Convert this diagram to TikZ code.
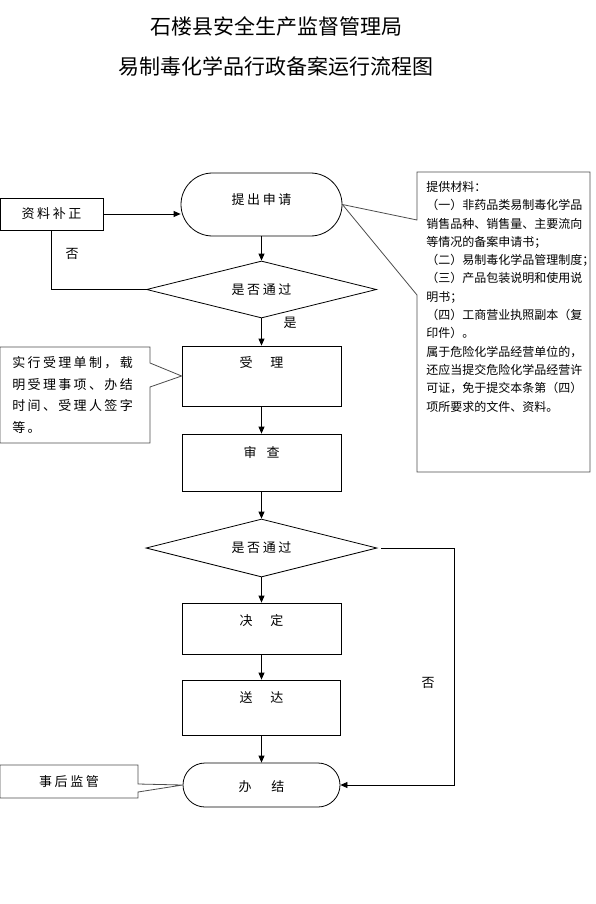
\documentclass[tikz,border=0pt]{standalone}
\usepackage{fontspec}
\setmainfont{Noto Sans CJK SC}
\newfontfamily\spfont[LetterSpace=20]{Noto Sans CJK SC}
\newfontfamily\cofont[LetterSpace=18]{Noto Sans CJK SC}
\usetikzlibrary{shapes.geometric,arrows.meta}
\begin{document}
\begin{tikzpicture}[x=1pt,y=-1pt,line width=0.8pt,
  arr/.style={-{Triangle[length=7pt,width=6pt]}},
  lbl/.style={font=\spfont\fontsize{13}{15}\selectfont,inner sep=0pt},
  box/.style={draw,rectangle,inner sep=0pt,font=\spfont\fontsize{13}{15}\selectfont,
    minimum width=#1},
  dia/.style={draw,diamond,aspect=4,inner sep=0pt,minimum width=230pt,minimum height=57pt,
    font=\spfont\fontsize{13}{15}\selectfont},
  call/.style={draw=black!70,line width=0.8pt},
  ttl/.style={font=\fontsize{21}{24}\selectfont,inner sep=0pt}]
\useasboundingbox (0,0) rectangle (595,904);

% titles
\node[ttl] (t1) at (276.5,26) {石楼县安全生产监督管理局};
\node[ttl] (t2) at (275.5,66) {易制毒化学品行政备案运行流程图};

% main nodes
\node[box=103pt,text height=20.7pt,text depth=11.3pt] (zl) at (51.5,214) {资料补正};
\node[box=161pt,rounded corners=31.5pt,text height=31.7pt,text depth=31.3pt] (tc) at (261.5,204.5) {提出申请};
\node[dia] (d1) at (261.5,289.5) {是否通过};
\node[box=159pt,text height=21.7pt,text depth=38.3pt] (sl) at (261.5,376) {受\hspace{18pt}理};
\node[box=159pt,text height=23.7pt,text depth=33.3pt] (sc) at (261.5,462.5) {审\hspace{10pt}查};
\node[dia,minimum width=231pt,minimum height=58pt] (d2) at (261.5,548) {是否通过};
\node[box=159pt,text height=22.7pt,text depth=28.3pt] (jd) at (261.5,628.5) {决\hspace{18pt}定};
\node[box=158pt,text height=22.7pt,text depth=32.3pt] (sd) at (261.5,707.5) {送\hspace{18pt}达};
\node[box=157pt,rounded corners=22pt,text height=28.7pt,text depth=15.3pt] (bj) at (261.5,785) {办\hspace{20pt}结};

% labels
\node[lbl] (no1) at (72,254) {否};
\node[lbl] (yes1) at (290,323) {是};
\node[lbl] (no2) at (428,683) {否};

% connectors
\draw[arr] (zl.east) -- (tc.west |- zl.east);
\draw[arr] (tc.south) -- (d1.north);
\draw (zl.south) |- (d1.west);
\draw[arr] (d1.south) -- (sl.north);
\draw[arr] (sl.south) -- (sc.north);
\draw[arr] (sc.south) -- (d2.north);
\draw[arr] (d2.south) -- (jd.north);
\draw[arr] (jd.south) -- (sd.north);
\draw[arr] (sd.south) -- (bj.north);
\coordinate (rc) at (454,548);
\draw[arr] ([xshift=4pt]d2.east) -- (rc) |- (bj.east);

% right callout
\draw[call] (417,172) -- (590,172) -- (590,472) -- (417,472) -- (417,295)
  -- (tc.east) -- (417,220) -- cycle;
\node[anchor=north west,inner sep=0pt,align=left,
  font=\fontsize{12}{18.3}\selectfont] (rt) at (426,181) {提供材料：\\
（一）非药品类易制毒化学品\\
销售品种、销售量、主要流向\\
等情况的备案申请书；\\
（二）易制毒化学品管理制度；\\
（三）产品包装说明和使用说\\
明书；\\
（四）工商营业执照副本（复\\
印件）。\\
属于危险化学品经营单位的，\\
还应当提交危险化学品经营许\\
可证，免于提交本条第（四）\\
项所要求的文件、资料。};

% left callout
\draw[call] (0,347) -- (150,347) -- (150,363) -- (sl.west) -- (150,387)
  -- (150,443) -- (0,443) -- cycle;
\node[anchor=north west,inner sep=0pt,align=left,
  font=\cofont\fontsize{13}{21.7}\selectfont] (lt) at (12,356) {实行受理单制，载\\
明受理事项、办结\\
时间、受理人签字\\
等。};

% bottom-left callout
\draw[call] (0,765) -- (138,765) -- (138,784) -- (bj.west) -- (138,792)
  -- (138,798) -- (0,798) -- cycle;
\node[lbl] (sh) at (69,782) {事后监管};
\end{tikzpicture}
\end{document}
